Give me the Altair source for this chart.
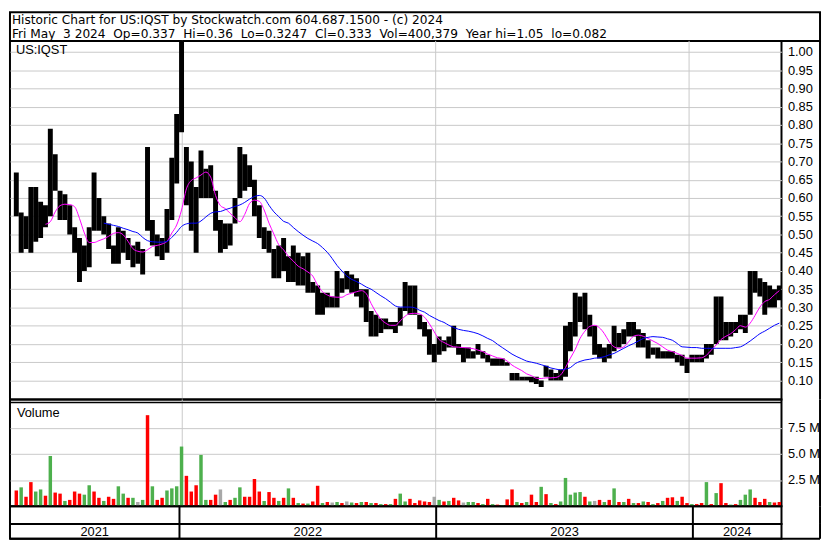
import altair as alt
import pandas as pd

# ---------------- text ----------------
TITLE_LINE_1 = "Historic Chart for US:IQST by Stockwatch.com 604.687.1500 - (c) 2024"
TITLE_LINE_2 = "Fri May  3 2024  Op=0.337  Hi=0.36  Lo=0.3247  Cl=0.333  Vol=400,379  Year hi=1.05  lo=0.082"
SYMBOL = "US:IQST"
VOLUME_LABEL = "Volume"

# ---------------- data (weekly) ----------------
WEEK_START = "2021-05-07"   # first week (Fridays)

high = [0.67, 0.56, 0.55, 0.63, 0.63, 0.59, 0.58, 0.79, 0.72, 0.62,
        0.61, 0.58, 0.52, 0.49, 0.47, 0.52, 0.67, 0.60, 0.55, 0.53,
        0.47, 0.52, 0.51, 0.49, 0.47, 0.48, 0.46, 0.74, 0.54, 0.50,
        0.49, 0.57, 0.71, 0.83, 1.05, 0.74, 0.70, 0.63, 0.73, 0.68,
        0.69, 0.62, 0.54, 0.53, 0.53, 0.60, 0.74, 0.72, 0.69, 0.65,
        0.58, 0.52, 0.51, 0.46, 0.47, 0.49, 0.44, 0.47, 0.45, 0.44,
        0.45, 0.37, 0.36, 0.34, 0.34, 0.33, 0.40, 0.38, 0.40, 0.39,
        0.38, 0.35, 0.35, 0.29, 0.28, 0.27, 0.27, 0.26, 0.26, 0.30,
        0.37, 0.36, 0.36, 0.28, 0.26, 0.24, 0.20, 0.22, 0.21, 0.22,
        0.25, 0.20, 0.19, 0.19, 0.18, 0.20, 0.18, 0.17, 0.16, 0.16,
        0.16, 0.15, 0.12, 0.12, 0.11, 0.11, 0.11, 0.11, 0.10, 0.14,
        0.13, 0.12, 0.13, 0.25, 0.26, 0.34, 0.33, 0.34, 0.28, 0.25,
        0.20, 0.19, 0.20, 0.25, 0.23, 0.24, 0.26, 0.26, 0.24, 0.23,
        0.21, 0.19, 0.19, 0.18, 0.18, 0.18, 0.17, 0.17, 0.16, 0.17,
        0.17, 0.17, 0.20, 0.20, 0.33, 0.33, 0.26, 0.26, 0.26, 0.28,
        0.28, 0.40, 0.40, 0.38, 0.37, 0.36, 0.35, 0.36]

low = [0.55, 0.45, 0.46, 0.45, 0.48, 0.49, 0.52, 0.55, 0.62, 0.54,
       0.54, 0.50, 0.45, 0.37, 0.40, 0.41, 0.51, 0.51, 0.50, 0.46,
       0.42, 0.42, 0.45, 0.43, 0.41, 0.42, 0.39, 0.51, 0.47, 0.44,
       0.43, 0.45, 0.54, 0.64, 0.78, 0.58, 0.51, 0.45, 0.60, 0.60,
       0.60, 0.51, 0.45, 0.46, 0.47, 0.53, 0.60, 0.62, 0.63, 0.55,
       0.49, 0.46, 0.45, 0.38, 0.38, 0.40, 0.37, 0.37, 0.36, 0.36,
       0.34, 0.34, 0.28, 0.28, 0.30, 0.30, 0.30, 0.34, 0.35, 0.34,
       0.33, 0.30, 0.26, 0.22, 0.22, 0.23, 0.24, 0.24, 0.23, 0.25,
       0.29, 0.28, 0.28, 0.24, 0.22, 0.17, 0.15, 0.17, 0.18, 0.19,
       0.19, 0.17, 0.15, 0.16, 0.16, 0.17, 0.16, 0.15, 0.14, 0.14,
       0.14, 0.14, 0.10, 0.10, 0.10, 0.10, 0.095, 0.09, 0.082, 0.11,
       0.10, 0.10, 0.10, 0.11, 0.18, 0.22, 0.26, 0.24, 0.22, 0.17,
       0.16, 0.15, 0.16, 0.18, 0.19, 0.20, 0.22, 0.22, 0.19, 0.19,
       0.16, 0.17, 0.16, 0.16, 0.16, 0.16, 0.15, 0.14, 0.12, 0.15,
       0.15, 0.15, 0.16, 0.17, 0.20, 0.21, 0.21, 0.22, 0.23, 0.24,
       0.23, 0.28, 0.34, 0.33, 0.28, 0.30, 0.30, 0.32]

ma_fast = [None] * 6 + [
    0.528, 0.535, 0.562, 0.579, 0.583, 0.582, 0.576, 0.544, 0.504, 0.478,
    0.478, 0.483, 0.488, 0.495, 0.503, 0.505, 0.499, 0.481, 0.461, 0.454,
    0.452, 0.458, 0.467, 0.470, 0.474, 0.481, 0.504, 0.526, 0.567, 0.625,
    0.648, 0.655, 0.663, 0.671, 0.657, 0.607, 0.579, 0.571, 0.558, 0.546,
    0.535, 0.555, 0.585, 0.594, 0.591, 0.567, 0.531, 0.501, 0.472,
    0.458, 0.440, 0.427, 0.413, 0.406, 0.397, 0.386, 0.361, 0.343, 0.334,
    0.329, 0.328, 0.328, 0.335, 0.339, 0.343, 0.346, 0.338, 0.311, 0.287,
    0.268, 0.257, 0.251, 0.251, 0.263, 0.276, 0.283, 0.284, 0.282, 0.273,
    0.255, 0.233, 0.212, 0.204, 0.197, 0.192, 0.191, 0.190, 0.189, 0.187,
    0.183, 0.179, 0.172, 0.167, 0.162, 0.160, 0.153, 0.142, 0.134, 0.127,
    0.118, 0.113, 0.106, 0.105,
    0.107, 0.107, 0.108, 0.115, 0.135, 0.161, 0.185, 0.215, 0.235, 0.248,
    0.251, 0.244, 0.228, 0.206, 0.192, 0.188, 0.192, 0.206, 0.221, 0.224,
    0.221, 0.215, 0.208, 0.201, 0.192, 0.183, 0.179, 0.174, 0.168, 0.161,
    0.161, 0.161, 0.162, 0.169, 0.183, 0.197, 0.212, 0.221, 0.228, 0.239,
    0.250, 0.246, 0.257, 0.278, 0.301, 0.316, 0.322, 0.335, 0.346]

ma_slow = [None] * 18 + [
    0.531, 0.528, 0.525, 0.522, 0.517, 0.513, 0.508, 0.504, 0.492, 0.483,
    0.480, 0.479, 0.479, 0.481, 0.492, 0.506, 0.522, 0.529, 0.531, 0.531,
    0.537, 0.548, 0.558, 0.562, 0.563, 0.568, 0.572, 0.577, 0.581, 0.588,
    0.597, 0.604, 0.607, 0.600, 0.580, 0.562, 0.549,
    0.536, 0.531, 0.519, 0.508, 0.498, 0.489, 0.482, 0.475, 0.464, 0.451,
    0.434, 0.415, 0.400, 0.386, 0.377, 0.371, 0.364, 0.356, 0.350, 0.341,
    0.332, 0.324, 0.314, 0.304, 0.301, 0.301, 0.301, 0.299, 0.292, 0.287,
    0.278, 0.271, 0.264, 0.259, 0.251, 0.245, 0.240, 0.237, 0.235, 0.232,
    0.228, 0.222, 0.215, 0.209, 0.199, 0.190, 0.181, 0.172, 0.165, 0.159,
    0.153, 0.150, 0.147, 0.143,
    0.139, 0.134, 0.131, 0.129, 0.131, 0.135, 0.146, 0.152, 0.156, 0.158,
    0.161, 0.162, 0.165, 0.170, 0.174, 0.181, 0.188, 0.195, 0.201, 0.208,
    0.215, 0.218, 0.220, 0.219, 0.218, 0.214, 0.210, 0.201, 0.192, 0.191,
    0.190, 0.190, 0.188, 0.188, 0.188, 0.188, 0.188, 0.188, 0.188, 0.190,
    0.192, 0.199, 0.208, 0.218, 0.228, 0.235, 0.243, 0.251, 0.257]

volume_m = [1.5, 1.8, 0.9, 2.3, 1.4, 1.6, 1.0, 4.8, 1.3, 1.2,
            0.5, 0.6, 1.4, 1.2, 1.1, 2.0, 1.4, 0.8, 0.5, 0.9,
            0.7, 1.9, 1.2, 0.8, 0.8, 0.4, 0.6, 8.7, 1.9, 0.6,
            0.8, 1.5, 1.7, 1.9, 5.7, 2.9, 1.4, 2.0, 4.9, 0.6,
            0.6, 1.1, 1.6, 0.4, 0.6, 0.8, 1.8, 0.9, 0.9, 2.6,
            1.4, 0.5, 1.35, 0.8, 0.5, 0.8, 1.7, 0.8, 0.3, 0.25,
            0.25, 0.45, 1.95, 0.3, 0.4, 0.35, 0.4, 0.3, 0.45, 0.35,
            0.3, 0.4, 0.4, 0.3, 0.3, 0.2, 0.2, 0.2, 0.7, 1.2,
            0.45, 0.7, 0.3, 0.55, 0.45, 0.4, 0.9, 0.6, 0.45, 0.5,
            0.8, 0.55, 0.35, 0.4, 0.4, 0.3, 0.2, 0.7, 0.2, 0.15,
            0.1, 0.65, 1.6, 0.4, 0.3, 0.4, 1.1, 0.4, 1.85, 1.15,
            0.3, 0.2, 0.45, 2.7, 1.1, 1.3, 1.35, 0.9, 0.45, 0.5,
            0.6, 0.4, 0.6, 1.7, 0.4, 0.4, 0.7, 0.3, 0.3, 0.45,
            0.4, 0.2, 0.3, 0.5, 0.8, 0.85, 0.5, 0.9, 0.3, 0.2,
            0.2, 0.3, 2.3, 0.2, 1.25, 2.2, 0.3, 0.15, 0.2, 0.6,
            1.1, 1.6, 0.8, 0.4, 0.7, 0.4, 0.35, 0.4]

# r = down, g = up, n = unchanged
direction = ("rgrrggrgrr" "grrrggrrgr" "rggrgngrgr" "rggggrrrgg" "rrngrggrrr"
             "rgrrgrgrgr" "grrgrngrng" "rgrgrgrgrg" "grrrrrngrg" "rrnggrgrgr"
             "grrgrgrrgr" "grgggggrgn" "rgrgrgrgrg" "rgrgrrgrrg" "rrgrgrrgrg"
             "ggrrrgrr")

price_ticks = [round(0.10 + 0.05 * i, 2) for i in range(19)]
volume_ticks = [2.5e6, 5.0e6, 7.5e6]
year_starts = ["2022-01-01", "2023-01-01", "2024-01-01"]
year_labels = ["2021", "2022", "2023", "2024"]

X_START = "2021-05-05"
X_END = "2024-05-06"

# ---------------- frames ----------------
n = len(high)
df = pd.DataFrame({
    "date": pd.date_range(WEEK_START, periods=n, freq="7D"),
    "high": high,
    "low": low,
    "ma_fast": ma_fast,
    "ma_slow": ma_slow,
    "volume": [v * 1e6 for v in volume_m],
    "dir": list(direction),
})

bounds = [pd.Timestamp(X_START)] + [pd.Timestamp(d) for d in year_starts] + [pd.Timestamp(X_END)]
year_df = pd.DataFrame({
    "label": year_labels,
    "mid": [bounds[i] + (bounds[i + 1] - bounds[i]) / 2 for i in range(len(year_labels))],
})
ystart_df = pd.DataFrame({"date": pd.to_datetime(year_starts)})
one = pd.DataFrame({"k": [0]})
header_df = pd.DataFrame({"line": [TITLE_LINE_1.replace(" ", "\u00a0"),
                                   TITLE_LINE_2.replace(" ", "\u00a0")],
                          "row": [0, 1]})

FONT = "Liberation Sans"
HEAD_FONT = "DejaVu Sans"
W = 781
FULL_W = 820
H_HEAD, H_PRICE, H_VOL, H_S1, H_S2 = 29, 363, 108, 18, 15
GRID = "#c8c8c8"

xs = alt.Scale(domain=[alt.DateTime(year=2021, month=5, date=5),
                       alt.DateTime(year=2024, month=5, date=6)])
X = alt.X("date:T", scale=xs, axis=None)


def right_border(h):
    return alt.Chart(one).mark_rule(color="black", strokeWidth=2).encode(
        x=alt.value(FULL_W), y=alt.value(0), y2=alt.value(h))


# ---------------- header ----------------
header = alt.Chart(header_df).mark_text(
    align="left", baseline="alphabetic", font=HEAD_FONT, fontSize=12.3, color="black"
).encode(
    x=alt.value(2),
    y=alt.Y("row:Q", scale=alt.Scale(domain=[0, 1], range=[11.5, 26]), axis=None),
    text="line:N",
).properties(width=FULL_W, height=H_HEAD)

# ---------------- price ----------------
price_y = alt.Scale(domain=[0.0477, 1.0306])
price_axis = alt.Axis(
    orient="right", values=price_ticks, format=".2f", grid=True, gridColor=GRID,
    gridWidth=1, domain=False, ticks=False, labelFont=FONT, labelFontSize=13,
    labelColor="black", labelPadding=6, labelOverlap=False, title=None)
p_grid = alt.Chart(ystart_df).mark_rule(color=GRID, strokeWidth=1).encode(x=X)
p_bars = alt.Chart(df).mark_bar(size=5, color="black", clip=True).encode(
    x=X,
    y=alt.Y("low:Q", scale=price_y, axis=price_axis),
    y2="high:Q",
)
p_fast = alt.Chart(df).mark_line(color="#ff00ff", strokeWidth=1, interpolate="monotone").encode(
    x=X, y=alt.Y("ma_fast:Q", scale=price_y, axis=price_axis))
p_slow = alt.Chart(df).mark_line(color="#0000ff", strokeWidth=1, interpolate="monotone").encode(
    x=X, y=alt.Y("ma_slow:Q", scale=price_y, axis=price_axis))
p_sym = alt.Chart(one).mark_text(align="left", baseline="alphabetic", font=FONT,
                                 fontSize=13, color="black").encode(
    x=alt.value(6), y=alt.value(13), text=alt.value(SYMBOL))
price = alt.layer(p_grid, p_bars, p_fast, p_slow, p_sym, right_border(H_PRICE)).properties(
    width=W, height=H_PRICE)

# ---------------- volume ----------------
vol_y = alt.Scale(domain=[0, 10.2e6])
v_grid = alt.Chart(ystart_df).mark_rule(color=GRID, strokeWidth=1).encode(x=X)
v_bars = alt.Chart(df).mark_bar(size=3.5).encode(
    x=X,
    y=alt.Y("volume:Q", scale=vol_y, axis=alt.Axis(
        orient="right", values=volume_ticks,
        labelExpr="format(datum.value / 1000000, '.1f') + ' M'",
        grid=True, gridColor=GRID, gridWidth=1, domain=False, ticks=False,
        labelFont=FONT, labelFontSize=13, labelColor="black", labelPadding=6,
        labelOverlap=False, title=None)),
    color=alt.Color("dir:N", scale=alt.Scale(domain=["r", "g", "n"],
                                             range=["#ff0000", "#4db04d", "#a8a8a8"]),
                    legend=None),
)
v_line = alt.Chart(one).mark_rule(color="black", strokeWidth=1.5).encode(
    x=alt.value(0), x2=alt.value(W), y=alt.value(3))
v_text = alt.Chart(one).mark_text(align="left", baseline="alphabetic", font=FONT,
                                  fontSize=13, color="black").encode(
    x=alt.value(7), y=alt.value(18), text=alt.value(VOLUME_LABEL))
volume = alt.layer(v_grid, v_bars, v_line, v_text, right_border(H_VOL)).properties(
    width=W, height=H_VOL)

# ---------------- strips ----------------
s1_sep = alt.Chart(ystart_df).mark_rule(color="black", strokeWidth=2).encode(x=X)
strip1 = alt.layer(s1_sep, right_border(H_S1)).properties(width=W, height=H_S1)

s2_sep = alt.Chart(ystart_df).mark_rule(color="black", strokeWidth=2).encode(x=X)
s2_text = alt.Chart(year_df).mark_text(font=FONT, fontSize=13, color="black",
                                       baseline="middle").encode(
    x=alt.X("mid:T", scale=xs, axis=None), y=alt.value(8), text="label:N")
s2_bottom = alt.Chart(one).mark_rule(color="black", strokeWidth=2).encode(
    x=alt.value(0), x2=alt.value(FULL_W), y=alt.value(H_S2))
strip2 = alt.layer(s2_sep, s2_text, s2_bottom, right_border(H_S2)).properties(
    width=W, height=H_S2)

chart = alt.vconcat(header, price, volume, strip1, strip2, spacing=0, bounds="flush").properties(
    padding=0, background="white"
).configure_view(stroke="black", strokeWidth=2)

chart.save("out.html", embed_options={"renderer": "svg", "actions": False})
